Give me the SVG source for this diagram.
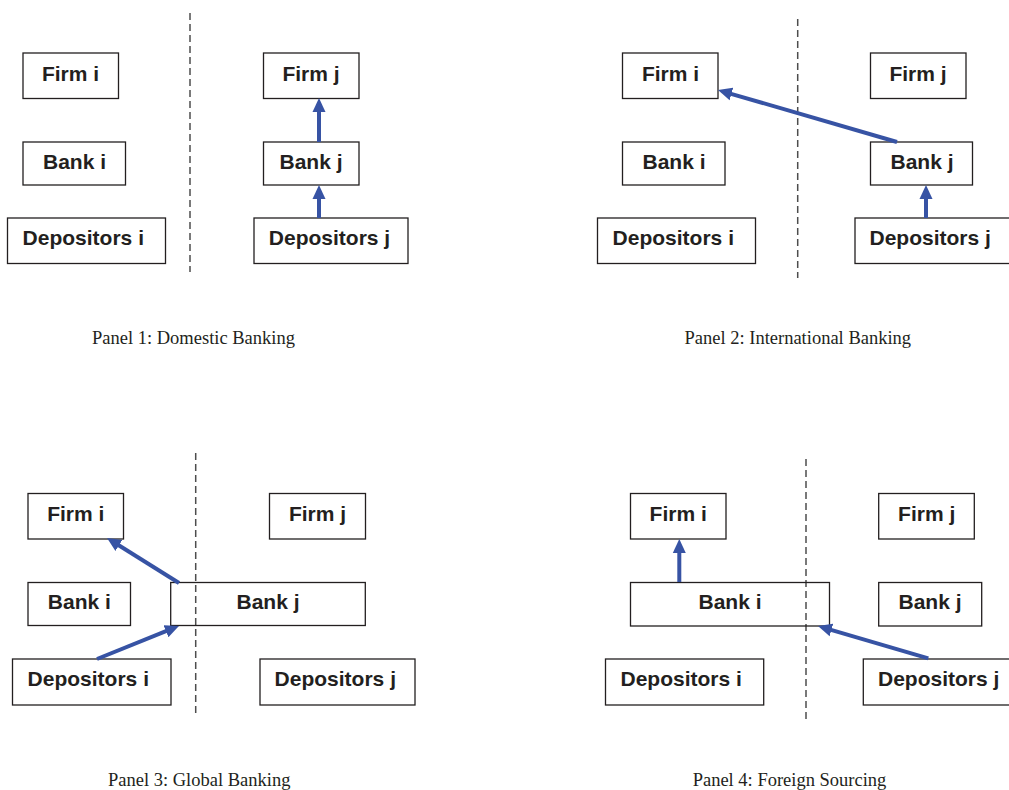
<svg xmlns="http://www.w3.org/2000/svg" width="1009" height="790" viewBox="0 0 1009 790">
<style>
.box{fill:none;stroke:#231f20;stroke-width:1.3}
.lbl{font-family:"Liberation Sans",Arial,sans-serif;font-weight:bold;font-size:21px;fill:#231f20;text-anchor:middle}
.cap{font-family:"Liberation Serif","Times New Roman",serif;font-size:18.5px;fill:#231f20;text-anchor:middle}
.div{stroke:#4d4d4d;stroke-width:1.5;stroke-dasharray:7,4;fill:none}
.arr{stroke:#3753a4;stroke-width:4;fill:none;marker-end:url(#ah)}
</style>
<defs>
<marker id="ah" markerUnits="userSpaceOnUse" markerWidth="15" markerHeight="14" refX="4" refY="6.5" orient="auto" viewBox="0 0 15 13">
<path d="M0,0 L14,6.5 L0,13 z" fill="#3753a4"/>
</marker>
</defs>
<rect width="1009" height="790" fill="#fff"/>
<g id="dividers">
<line class="div" x1="190" y1="13" x2="190" y2="272"/>
<line class="div" x1="797.7" y1="19" x2="797.7" y2="278"/>
<line class="div" x1="195.7" y1="453" x2="195.7" y2="713"/>
<line class="div" x1="806" y1="459" x2="806" y2="720"/>
</g>
<g id="panel1">
<g id="p1-firm-i"><rect class="box" x="23" y="53" width="95.5" height="45.5"/><text class="lbl" x="70.5" y="81">Firm i</text></g>
<g id="p1-bank-i"><rect class="box" x="23" y="142" width="102.5" height="43"/><text class="lbl" x="74.5" y="168.5">Bank i</text></g>
<g id="p1-dep-i"><rect class="box" x="7.5" y="218" width="158" height="45.5"/><text class="lbl" x="83.3" y="244.5">Depositors i</text></g>
<g id="p1-firm-j"><rect class="box" x="263.5" y="53" width="95.5" height="45.5"/><text class="lbl" x="311" y="81">Firm j</text></g>
<g id="p1-bank-j"><rect class="box" x="263.5" y="142" width="95.5" height="43"/><text class="lbl" x="311" y="168.5">Bank j</text></g>
<g id="p1-dep-j"><rect class="box" x="254" y="218" width="154" height="45.5"/><text class="lbl" x="329.5" y="244.5">Depositors j</text></g>
<text class="cap" x="193.5" y="344">Panel 1: Domestic Banking</text>
</g>
<g id="panel2">
<g id="p2-firm-i"><rect class="box" x="622.5" y="53" width="95.5" height="45.5"/><text class="lbl" x="670.5" y="81">Firm i</text></g>
<g id="p2-bank-i"><rect class="box" x="622.5" y="142" width="102.5" height="43"/><text class="lbl" x="674" y="168.5">Bank i</text></g>
<g id="p2-dep-i"><rect class="box" x="597.5" y="218" width="158" height="45.5"/><text class="lbl" x="673.3" y="244.5">Depositors i</text></g>
<g id="p2-firm-j"><rect class="box" x="870.5" y="53" width="95.5" height="45.5"/><text class="lbl" x="918" y="81">Firm j</text></g>
<g id="p2-bank-j"><rect class="box" x="870.5" y="142" width="102" height="43"/><text class="lbl" x="922" y="168.5">Bank j</text></g>
<g id="p2-dep-j"><rect class="box" x="855" y="218" width="158" height="45.5"/><text class="lbl" x="930.2" y="244.5">Depositors j</text></g>
<text class="cap" x="797.8" y="344">Panel 2: International Banking</text>
</g>
<g id="panel3">
<g id="p3-firm-i"><rect class="box" x="28" y="493.5" width="95.5" height="45.5"/><text class="lbl" x="75.8" y="521">Firm i</text></g>
<g id="p3-bank-i"><rect class="box" x="28" y="582.5" width="102.5" height="43"/><text class="lbl" x="79.3" y="609">Bank i</text></g>
<g id="p3-dep-i"><rect class="box" x="12.5" y="659" width="158.5" height="46"/><text class="lbl" x="88.3" y="685.7">Depositors i</text></g>
<g id="p3-firm-j"><rect class="box" x="269.5" y="493.5" width="96" height="45.5"/><text class="lbl" x="317.5" y="521">Firm j</text></g>
<g id="p3-bank-j"><rect class="box" x="170.7" y="582.5" width="194.6" height="43"/><text class="lbl" x="268" y="609">Bank j</text></g>
<g id="p3-dep-j"><rect class="box" x="260" y="659" width="155" height="46"/><text class="lbl" x="335.3" y="685.7">Depositors j</text></g>
<text class="cap" x="199.2" y="786">Panel 3: Global Banking</text>
</g>
<g id="panel4">
<g id="p4-firm-i"><rect class="box" x="630.5" y="493.5" width="95.5" height="45.5"/><text class="lbl" x="678.2" y="521">Firm i</text></g>
<g id="p4-bank-i"><rect class="box" x="630.5" y="582.5" width="199" height="43.5"/><text class="lbl" x="730" y="609.3">Bank i</text></g>
<g id="p4-dep-i"><rect class="box" x="605.5" y="659" width="158.2" height="46"/><text class="lbl" x="681.2" y="685.7">Depositors i</text></g>
<g id="p4-firm-j"><rect class="box" x="878.7" y="493.5" width="95.6" height="45.5"/><text class="lbl" x="926.7" y="521">Firm j</text></g>
<g id="p4-bank-j"><rect class="box" x="878.7" y="582.5" width="103" height="43.5"/><text class="lbl" x="930" y="609.3">Bank j</text></g>
<g id="p4-dep-j"><rect class="box" x="863.3" y="659" width="158" height="46"/><text class="lbl" x="938.7" y="685.7">Depositors j</text></g>
<text class="cap" x="789.5" y="786">Panel 4: Foreign Sourcing</text>
</g>
<g id="connectors">
<line class="arr" x1="319" y1="142" x2="319" y2="108"/>
<line class="arr" x1="319" y1="218" x2="319" y2="195"/>
<line class="arr" x1="897" y1="142" x2="727.6" y2="92.8"/>
<line class="arr" x1="926" y1="218" x2="926" y2="195"/>
<line class="arr" x1="179" y1="583" x2="115.5" y2="543.3"/>
<line class="arr" x1="97" y1="659" x2="169.7" y2="629.7"/>
<line class="arr" x1="679.3" y1="582" x2="679.3" y2="549"/>
<line class="arr" x1="928.3" y1="658.3" x2="827.6" y2="628.8"/>
</g>
</svg>
